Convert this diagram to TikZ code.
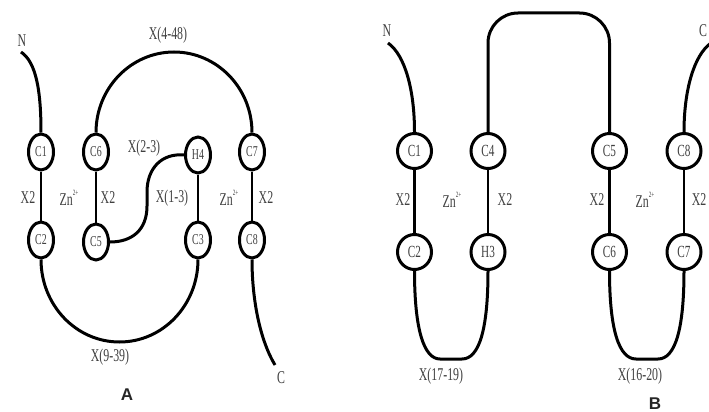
\documentclass[tikz,border=0pt]{standalone}
\usepackage{fontspec}
\setmainfont{Liberation Serif}
\newfontfamily\labfont[FakeStretch=0.66]{Liberation Serif}
\newfontfamily\panelfont{Liberation Sans}
\usetikzlibrary{shapes.geometric}

% zinc ion label with a small raised charge
\newcommand{\zincion}{Zn\raisebox{1.2ex}{\fontsize{8}{8}\selectfont 2+}}

\tikzset{
  ringA/.style={ellipse, draw, line width=3pt, minimum width=25pt,
    minimum height=36pt, inner sep=0pt, text=black!75,
    font=\labfont\fontsize{15}{15}\selectfont},
  ringB/.style={ringA, minimum width=34pt, minimum height=35pt,
    font=\labfont\fontsize{17}{17}\selectfont},
  strand/.style={line width=3pt},
  link/.style={line width=2.5pt},
  lab/.style={inner sep=0pt, text=black!75,
    font=\labfont\fontsize{18}{18}\selectfont},
  panel/.style={inner sep=0pt, text=black!85,
    font=\panelfont\bfseries\fontsize{17}{17}\selectfont}
}

\begin{document}
\begin{tikzpicture}[x=1pt, y=-1pt]
\useasboundingbox (0,0) rectangle (709,412);
\clip (0,0) rectangle (709,412);

% ---------------- panel A ----------------
\node[ringA] (a1) at (41,152) {C1};
\node[ringA] (a6) at (96,152) {C6};
\node[ringA] (h4) at (198,155) {H4};
\node[ringA] (a7) at (252,152) {C7};
\node[ringA] (a2) at (41,240) {C2};
\node[ringA] (a5) at (96,242) {C5};
\node[ringA] (a3) at (198,240) {C3};
\node[ringA] (a8) at (252,240) {C8};

\draw[link] (a1) -- (a2);
\draw[link] (a6) -- (a5);
\draw[link] (h4) -- (a3);
\draw[link] (a7) -- (a8);

\coordinate (nA) at (21,52);
\coordinate (topA) at (174,52);
\coordinate (botA) at (119.5,342);
\coordinate (cA) at (275,365);

\draw[strand] (nA) .. controls (36,62) and (41,90) .. (a1.north);
\draw[strand] (a6.north) .. controls (96,88) and (131,52) .. (topA)
  .. controls (217,52) and (252,88) .. (a7.north);
\draw[strand] (h4.west) .. controls (162,153) and (147,168) .. (147,192)
  -- (147,206) .. controls (147,230) and (132,242) .. (a5.east);
\draw[strand] (a2.south) .. controls (41,305) and (76,342) .. (botA)
  .. controls (163,342) and (198,305) .. (a3.south);
\draw[strand] (a8.south) .. controls (252,300) and (260,340) .. (cA);

\node[lab] (nlabA) at (22,41) {N};
\node[lab] (x448) at (168,35) {X(4-48)};
\node[lab] (x23) at (144,148) {X(2-3)};
\node[lab] (x2a) at (28,198) {X2};
\node[lab] (zna) at (69,198) {\zincion};
\node[lab] (x2b) at (108,198) {X2};
\node[lab] (x13) at (172,198) {X(1-3)};
\node[lab] (znb) at (229,198) {\zincion};
\node[lab] (x2c) at (266,198) {X2};
\node[lab] (x939) at (110,357) {X(9-39)};
\node[lab] (clabA) at (281,378) {C};
\node[panel] (pA) at (127,395) {A};

% ---------------- panel B ----------------
\node[ringB] (b1) at (414.5,151) {C1};
\node[ringB] (b4) at (488,151) {C4};
\node[ringB] (b5) at (609.5,151) {C5};
\node[ringB] (b8) at (684,151) {C8};
\node[ringB] (b2) at (414.5,252) {C2};
\node[ringB] (h3) at (488,252) {H3};
\node[ringB] (b6) at (609.5,252) {C6};
\node[ringB] (b7) at (684,252) {C7};

\draw[link] (b1) -- (b2);
\draw[link] (b4) -- (h3);
\draw[link] (b5) -- (b6);
\draw[link] (b8) -- (b7);

\coordinate (nB) at (388,43);
\coordinate (cB) at (711,43);
\coordinate (topB) at (549,13);

\draw[strand] (nB) .. controls (405,55) and (414.5,90) .. (b1.north);
\draw[strand] (b8.north) .. controls (684,90) and (694,55) .. (cB);
\draw[strand, rounded corners=30pt] (b4.north) |- (topB) -| (b5.north);
\draw[strand] (b2.south) .. controls (414.5,330) and (424,359) .. (440,359)
  -- (462,359) .. controls (479,359) and (488,330) .. (h3.south);
\draw[strand] (b6.south) .. controls (609.5,330) and (619,359) .. (636,359)
  -- (658,359) .. controls (675,359) and (684,330) .. (b7.south);

\node[lab] (nlabB) at (387,31) {N};
\node[lab] (clabB) at (703,31) {C};
\node[lab] (x2d) at (403,200) {X2};
\node[lab] (znc) at (452,200) {\zincion};
\node[lab] (x2e) at (505,200) {X2};
\node[lab] (x2f) at (597,200) {X2};
\node[lab] (znd) at (645,200) {\zincion};
\node[lab] (x2g) at (699,200) {X2};
\node[lab] (x1719) at (441,376) {X(17-19)};
\node[lab] (x1620) at (640,376) {X(16-20)};
\node[panel] (pB) at (655,404) {B};
\end{tikzpicture}
\end{document}
